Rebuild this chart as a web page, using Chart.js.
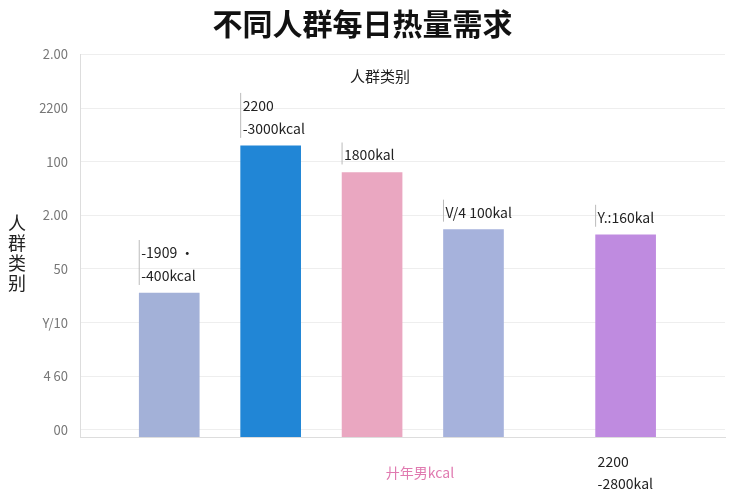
<!DOCTYPE html>
<html><head><meta charset="utf-8">
<script src="https://cdn.jsdelivr.net/npm/chart.js@4/dist/chart.umd.min.js"></script>
<style>body{margin:0;background:#fff}#w{width:750px;height:500px;position:relative}</style>
</head><body><div id="w"><canvas id="c" width="750" height="500"></canvas></div>
<script>
const categories = ["a","b","c","d","e"];
const xPositions = [0,1,2,3,4.5];
const values = [1128,2280,2072,1624,1584];
const colors = ["#a3b1d8","#2186d6","#eaa7c1","#a6b2dc","#bf8be0"];
const barLabels = [["-1909 •","-400kcal"],["2200","-3000kcal"],["1800kal"],["V/4 100kal"],["Y.:160kal"]];
const belowLabel = ["2200","-2800kal"];
const tickValues = [56,476,896,1316,1736,2156,2576,2996];
const tickLabels = ["00","4 60","Y/10","50","2.00","100","2200","2.00"];
const F = "'Noto Sans CJK SC','Noto Sans',sans-serif";

const labelPlugin = {id:'lbl', afterDatasetsDraw(chart){
  const ctx=chart.ctx, meta=chart.getDatasetMeta(0);
  ctx.save(); ctx.fillStyle='#222'; ctx.font="14px "+F; ctx.textAlign='left';
  meta.data.forEach((b,i)=>{
    const L=barLabels[i]; const n=L.length;
    L.forEach((t,j)=>{ ctx.fillText(t, b.x-28, b.y-12-(n-1-j)*23); });
    ctx.strokeStyle='#bbb'; ctx.lineWidth=1; ctx.beginPath();
    ctx.moveTo(b.x-30,b.y-8); ctx.lineTo(b.x-30,b.y-30-(n-1)*23); ctx.stroke();
  });
  const b=meta.data[4];
  ctx.fillText(belowLabel[0], b.x-28, chart.scales.y.getPixelForValue(0)+30);
  ctx.fillText(belowLabel[1], b.x-28, chart.scales.y.getPixelForValue(0)+52);
  ctx.fillStyle='#e07ab0'; ctx.textAlign='center';
  ctx.fillText("廾年男kcal", 420, 478);
  ctx.fillStyle='#222'; ctx.font="15px "+F;
  ctx.fillText("人群类别", 380, 82);
  ctx.font="18px "+F; ctx.textAlign='left';
  ["人","群","类","别"].forEach((c,k)=>{ctx.fillText(c, 8, 230+k*20);});
  ctx.restore();
}};

new Chart(document.getElementById('c'),{
  type:'bar',
  data:{datasets:[{data:xPositions.map((x,i)=>({x:x,y:values[i]})),backgroundColor:colors,barThickness:60}]},
  options:{responsive:false,animation:false,devicePixelRatio:1,
    layout:{padding:{left:0,right:25,top:0,bottom:55}},
    plugins:{legend:{display:false},tooltip:{enabled:false},
      title:{display:true,text:"不同人群每日热量需求",font:{family:F,size:30},color:'#111',padding:{top:6,bottom:12}}},
    scales:{
      x:{type:'linear',min:-0.35,max:4.95,ticks:{display:false},grid:{display:false},border:{color:'#ddd'}},
      y:{min:0,max:3000,afterBuildTicks(a){a.ticks=tickValues.map(v=>({value:v}));},
        ticks:{callback:(v)=>{const i=tickValues.indexOf(v);return i>=0?tickLabels[i]:'';},color:'#777',font:{family:F,size:13},padding:12},
        grid:{color:'#eee',drawTicks:false},border:{color:'#ddd'},
        afterFit(a){a.width=80;}}
    }},
  plugins:[labelPlugin]});
</script></body></html>
